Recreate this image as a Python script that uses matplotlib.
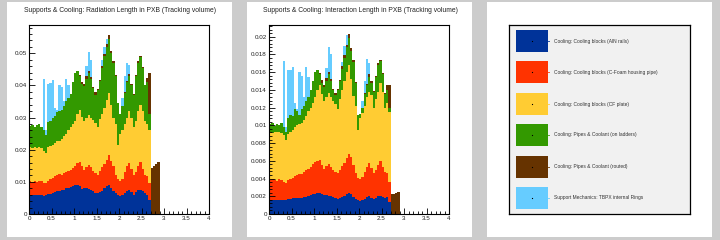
import numpy as np
import matplotlib
matplotlib.use("Agg")
import matplotlib.pyplot as plt
from matplotlib.patches import Rectangle
from matplotlib.ticker import MultipleLocator, FormatStrFormatter

plt.rcParams['font.family'] = ['Liberation Sans', 'DejaVu Sans']

# eta bins (0.05 wide), 0 -> 2.9
edges = np.round(np.arange(0, 2.95, 0.05), 3)
centers = 0.5 * (edges[:-1] + edges[1:])

labels = ["Cooling: Cooling blocks (AlN rails)",
          "Cooling: Cooling blocks (C-Foam housing pipe)",
          "Cooling: Cooling blocks (CF plate)",
          "Cooling: Pipes & Coolant (on ladders)",
          "Cooling: Pipes & Coolant (routed)",
          "Support Mechanics: TBPX internal Rings"]
colors = ["#003399", "#ff3300", "#ffcc33", "#339900", "#663300", "#66ccff"]

# stack tops (cumulative) - radiation length
rad_aln = [.0058, .0059, .0058, .0059, .0058, .0060, .0057, .0059, .0061, .0063,
           .0066, .0068, .0072, .0073, .0074, .0076, .0080, .0082, .0084, .0086,
           .0089, .0090, .0086, .0078, .0080, .0082, .0078, .0074, .0070, .0066,
           .0065, .0068, .0072, .0080, .0086, .0090, .0082, .0072, .0065, .0060,
           .0055, .0060, .0065, .0073, .0075, .0068, .0060, .0067, .0075, .0076,
           .0070, .0065, .0060, .0044, 0, 0, 0, 0]
rad_cfoam = [.0102, .0101, .0103, .0100, .0102, .0104, .0098, .0097, .0104, .0108,
             .0113, .0118, .0121, .0123, .0122, .0127, .0131, .0134, .0138, .0143,
             .0150, .0158, .0162, .0150, .0138, .0145, .0152, .0146, .0135, .0128,
             .0122, .0135, .0145, .0155, .0168, .0182, .0165, .0148, .0120, .0108,
             .0102, .0110, .0130, .0148, .0158, .0140, .0120, .0130, .0148, .0163,
             .0140, .0120, .0117, .0096, 0, 0, 0, 0]
rad_cf = [.0207, .0205, .0208, .0206, .0207, .0205, .0196, .0190, .0208, .0212,
          .0216, .0220, .0226, .0228, .0232, .0244, .0250, .0262, .0272, .0280,
          .0290, .0312, .0325, .0302, .0290, .0298, .0308, .0300, .0292, .0282,
          .0270, .0295, .0312, .0330, .0356, .0375, .0340, .0300, .0280, .0215,
          .0250, .0262, .0280, .0300, .0320, .0300, .0270, .0290, .0320, .0340,
          .0320, .0290, .0280, .0260, 0, 0, 0, 0]
rad_ladders = [.0275, .0278, .0272, .0276, .0280, .0270, .0262, .0245, .0285, .0290,
               .0300, .0305, .0318, .0320, .0322, .0335, .0350, .0362, .0372, .0410,
               .0440, .0445, .0430, .0405, .0398, .0420, .0440, .0420, .0392, .0370,
               .0385, .0415, .0455, .0490, .0520, .0545, .0500, .0470, .0430, .0345,
               .0310, .0335, .0377, .0410, .0430, .0400, .0370, .0430, .0470, .0488,
               .0455, .0400, .0410, .0310, 0, 0, 0, 0]
rad_routed = [.0275, .0278, .0272, .0276, .0280, .0270, .0262, .0245, .0285, .0290,
              .0300, .0305, .0318, .0320, .0322, .0335, .0350, .0362, .0372, .0410,
              .0440, .0445, .0432, .0412, .0405, .0428, .0445, .0425, .0395, .0378,
              .0388, .0418, .0462, .0498, .0528, .0556, .0508, .0475, .0432, .0345,
              .0310, .0335, .0380, .0415, .0437, .0405, .0372, .0432, .0475, .0490,
              .0458, .0402, .0422, .0440, .0143, .0148, .0155, .0161]
rad_rings = [.0275, .0278, .0272, .0276, .0280, .0270, .0420, .0260, .0405, .0408,
             .0418, .0330, .0325, .0400, .0395, .0350, .0420, .0400, .0372, .0410,
             .0440, .0445, .0432, .0412, .0405, .0460, .0505, .0480, .0395, .0378,
             .0388, .0418, .0480, .0520, .0545, .0556, .0508, .0475, .0432, .0345,
             .0310, .0360, .0430, .0470, .0465, .0405, .0372, .0432, .0475, .0490,
             .0458, .0402, .0422, .0440, .0143, .0148, .0155, .0161]

# stack tops - interaction length
int_aln = [.00158, .00160, .00158, .00160, .00158, .00162, .00156, .00160, .00166, .00170,
           .00175, .00178, .00180, .00182, .00185, .00188, .00195, .00200, .00210, .00220,
           .00230, .00240, .00235, .00220, .00210, .00215, .00205, .00200, .00190, .00175,
           .00165, .00175, .00190, .00205, .00220, .00240, .00220, .00195, .00170, .00160,
           .00150, .00160, .00170, .00190, .00200, .00185, .00170, .00180, .00200, .00205,
           .00195, .00180, .00190, .00140, 0, 0, 0, 0]
int_cfoam = [.0038, .0039, .0038, .0037, .0039, .0038, .0036, .0035, .0038, .0040,
             .0041, .0043, .0044, .0045, .0045, .0047, .0050, .0051, .0053, .0056,
             .0059, .0060, .0061, .0055, .0051, .0054, .0056, .0053, .0050, .0047,
             .0046, .0050, .0054, .0058, .0063, .0068, .0064, .0055, .0046, .0041,
             .0040, .0042, .0047, .0053, .0057, .0052, .0046, .0050, .0055, .0060,
             .0053, .0047, .0046, .0036, 0, 0, 0, 0]
int_cf = [.0092, .0091, .0092, .0092, .0093, .0091, .0089, .0084, .0090, .0093,
          .0095, .0098, .0100, .0101, .0103, .0106, .0110, .0116, .0120, .0125,
          .0132, .0140, .0145, .0135, .0128, .0132, .0136, .0132, .0128, .0124,
          .0118, .0130, .0140, .0150, .0160, .0168, .0152, .0133, .0122, .0095,
          .0108, .0114, .0122, .0132, .0138, .0134, .0120, .0130, .0138, .0148,
          .0138, .0120, .0125, .0115, 0, 0, 0, 0]
int_ladders = [.0101, .0103, .0099, .0102, .0100, .0103, .0098, .0093, .0108, .0112,
               .0110, .0118, .0116, .0112, .0118, .0122, .0128, .0132, .0140, .0150,
               .0160, .0162, .0158, .0148, .0143, .0150, .0158, .0150, .0140, .0134,
               .0140, .0150, .0164, .0176, .0188, .0199, .0184, .0172, .0148, .0112,
               .0113, .0120, .0135, .0145, .0155, .0148, .0138, .0155, .0168, .0173,
               .0158, .0135, .0140, .0120, 0, 0, 0, 0]
int_routed = [.0101, .0103, .0099, .0102, .0100, .0103, .0098, .0093, .0108, .0112,
              .0110, .0118, .0116, .0112, .0118, .0122, .0128, .0132, .0140, .0150,
              .0160, .0162, .0159, .0151, .0146, .0153, .0160, .0152, .0141, .0137,
              .0141, .0151, .0167, .0179, .0191, .0203, .0187, .0174, .0149, .0112,
              .0113, .0120, .0136, .0147, .0158, .0150, .0139, .0156, .0170, .0174,
              .0159, .0136, .0145, .0145, .0022, .0023, .0024, .0025]
int_rings = [.0101, .0103, .0099, .0102, .0100, .0103, .0173, .0098, .0163, .0163,
             .0166, .0125, .0118, .0160, .0156, .0132, .0166, .0155, .0140, .0150,
             .0160, .0162, .0159, .0151, .0146, .0165, .0188, .0180, .0141, .0137,
             .0141, .0151, .0172, .0190, .0202, .0203, .0187, .0174, .0149, .0112,
             .0113, .0128, .0150, .0175, .0170, .0150, .0139, .0156, .0170, .0174,
             .0159, .0136, .0145, .0145, .0022, .0023, .0024, .0025]

W, H = 720, 240
fig = plt.figure(figsize=(7.2, 2.4), dpi=100, facecolor="#cccccc")

# white pads (drawn behind the axes)
for x0 in (7, 247, 487):
    fig.patches.append(Rectangle((x0 / W, 3 / H), 225 / W, 235 / H,
                                 transform=fig.transFigure, facecolor="white",
                                 edgecolor="none", zorder=-10))


def draw_stack(left, tops, ymax, major, title):
    ax = fig.add_axes([left / W, 26 / H, 180 / W, 189 / H])
    tops = np.vstack([np.zeros(len(centers))] + [np.array(t) for t in tops])
    contribs = np.clip(np.diff(tops, axis=0), 0, None)
    ax.hist([centers] * len(colors), bins=edges, weights=list(contribs),
            stacked=True, histtype="stepfilled", color=colors, linewidth=0)
    ax.set_xlim(0, 4)
    ax.set_ylim(0, ymax)
    ax.xaxis.set_major_locator(MultipleLocator(0.5))
    ax.xaxis.set_minor_locator(MultipleLocator(0.1))
    ax.yaxis.set_major_locator(MultipleLocator(major))
    ax.yaxis.set_minor_locator(MultipleLocator(major / 5))
    ax.xaxis.set_major_formatter(FormatStrFormatter("%g"))
    ax.yaxis.set_major_formatter(FormatStrFormatter("%g"))
    ax.tick_params(which="both", direction="in", top=False, right=False,
                   labelsize=4.5, width=0.6, pad=1.5, labelcolor="#222222")
    ax.tick_params(which="major", length=4.5)
    ax.tick_params(which="minor", length=2.2)
    for s in ax.spines.values():
        s.set_linewidth(0.8)
    fig.text((left - 29 + 120) / W, 1 - 11 / H, title, ha="center", va="center",
             fontsize=4.9, color="#222222")
    return ax


draw_stack(29, [rad_aln, rad_cfoam, rad_cf, rad_ladders, rad_routed, rad_rings],
           0.0588, 0.01, "Supports & Cooling: Radiation Length in PXB (Tracking volume)")
draw_stack(269, [int_aln, int_cfoam, int_cf, int_ladders, int_routed, int_rings],
           0.02132, 0.002, "Supports & Cooling: Interaction Length in PXB (Tracking volume)")

# legend pad
lax = fig.add_axes([509 / W, 26 / H, 181 / W, 189 / H], facecolor="#f1f1f1")
lax.set_xlim(0, 1)
lax.set_ylim(0, 1)
lax.set_xticks([])
lax.set_yticks([])
for s in lax.spines.values():
    s.set_linewidth(0.9)
ycent = [0.915, 0.751, 0.582, 0.418, 0.249, 0.085]
for yc, lab, col in zip(ycent, labels, colors):
    lax.add_patch(Rectangle((0.039, yc - 0.058), 0.177, 0.116, facecolor=col,
                            edgecolor="none"))
    lax.plot([0.127], [yc], marker="s", ms=0.8, color="black", mew=0)
    lax.plot([0.216, 0.222], [yc, yc], color=col, lw=0.6)
    lax.text(0.249, yc, lab, fontsize=3.5, va="center", ha="left", color="#333333")

fig.savefig("out.png", dpi=100, facecolor=fig.get_facecolor())
